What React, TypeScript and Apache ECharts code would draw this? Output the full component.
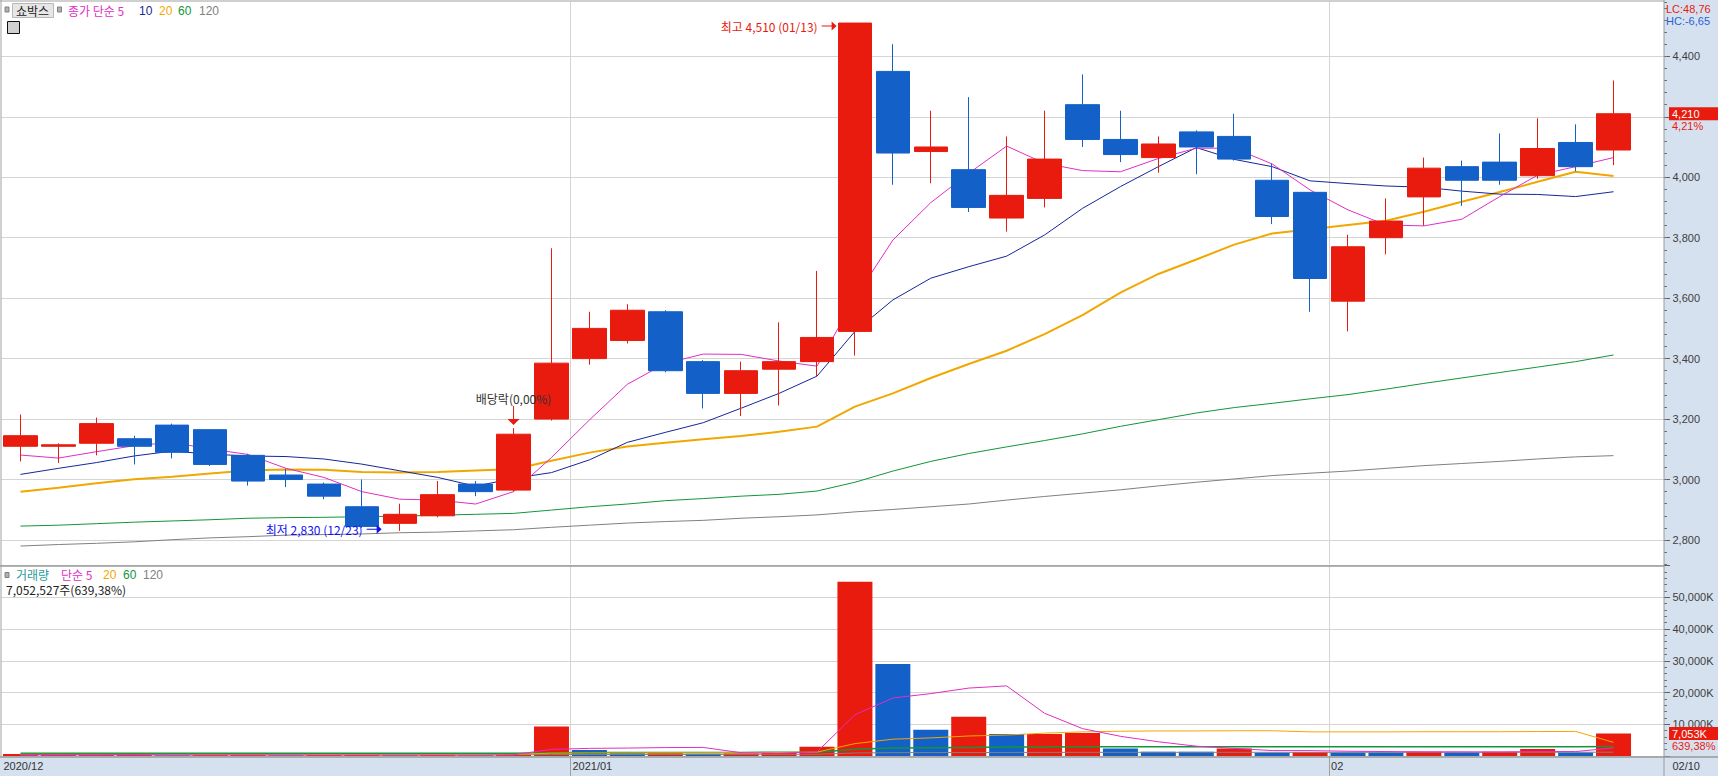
import React, { useEffect, useRef } from 'react';
import * as echarts from 'echarts';

// ---------- data ----------
const dates = [
  '2020/12/09','2020/12/10','2020/12/11','2020/12/14','2020/12/15','2020/12/16','2020/12/17','2020/12/18',
  '2020/12/21','2020/12/22','2020/12/23','2020/12/24','2020/12/28','2020/12/29','2020/12/30',
  '2021/01/04','2021/01/05','2021/01/06','2021/01/07','2021/01/08','2021/01/11','2021/01/12','2021/01/13',
  '2021/01/14','2021/01/15','2021/01/18','2021/01/19','2021/01/20','2021/01/21','2021/01/22','2021/01/25',
  '2021/01/26','2021/01/27','2021/01/28','2021/01/29',
  '2021/02/01','2021/02/02','2021/02/03','2021/02/04','2021/02/05','2021/02/08','2021/02/09','2021/02/10',
];
const opens  = [3110,3110,3120,3135,3180,3165,3080,3015,2985,2910,2855,2880,2985,2965,3200,3400,3460,3555,3390,3285,3365,3390,3490,4350,4085,4025,3865,3930,4240,4125,4065,4150,4135,3990,3950,3590,3800,3935,4035,4050,4005,4115,4090];
const closes = [3145,3115,3185,3110,3090,3050,2995,3000,2945,2845,2885,2950,2960,3150,3385,3500,3560,3360,3285,3360,3390,3470,4510,4080,4100,3900,3940,4060,4125,4075,4110,4100,4060,3870,3665,3770,3855,4030,3990,3990,4095,4035,4210];
const lows   = [3060,3055,3080,3050,3070,3045,2980,2975,2935,2840,2830,2875,2945,2960,3195,3380,3450,3355,3235,3210,3245,3340,3410,3975,3980,3885,3820,3900,4100,4050,4015,4010,4055,3845,3555,3490,3745,3840,3905,3975,3995,4020,4040];
const highs  = [3215,3120,3205,3145,3185,3165,3085,3035,2990,3000,2920,2995,2995,3170,3765,3555,3580,3560,3395,3390,3520,3690,4510,4440,4220,4265,4135,4220,4340,4220,4135,4155,4210,4045,3950,3810,3930,4065,4055,4145,4195,4175,4320];

const ma5   = [3081,3071,3092,3112,3123,3101,3083,3037,3007,2960,2935,2932,2919,2960,3073,3197,3315,3384,3415,3414,3392,3375,3600,3792,3916,4013,4103,4046,4022,4018,4062,4096,4096,4044,3958,3892,3842,3839,3861,3936,4007,4035,4065];
const ma10  = [3017,3037,3056,3078,3094,3084,3078,3076,3068,3051,3029,3007,2978,3004,3023,3065,3123,3156,3188,3236,3285,3342,3490,3594,3666,3704,3739,3809,3897,3969,4035,4098,4059,4035,3988,3979,3971,3967,3954,3944,3943,3936,3952];
const ma20  = [2960,2973,2988,3001,3009,3020,3030,3033,3032,3025,3023,3025,3030,3034,3062,3089,3109,3122,3133,3144,3158,3175,3241,3285,3336,3382,3426,3481,3544,3618,3680,3728,3777,3814,3828,3842,3856,3886,3919,3951,3985,4018,4004];
const ma60  = [2846,2849,2854,2859,2863,2867,2872,2874,2875,2877,2879,2882,2885,2888,2899,2910,2919,2930,2937,2945,2951,2962,2991,3028,3060,3086,3108,3129,3151,3176,3198,3220,3238,3252,3267,3281,3299,3318,3336,3354,3372,3390,3412];
const ma120 = [2780,2785,2789,2794,2801,2807,2811,2816,2818,2820,2824,2826,2830,2834,2842,2849,2856,2861,2865,2872,2877,2883,2893,2901,2910,2919,2932,2944,2955,2966,2979,2991,3002,3013,3021,3028,3037,3046,3053,3060,3068,3075,3079];

// volume in thousands of shares
const volumes = [630,300,300,600,200,300,350,200,300,400,200,300,200,700,9300,1900,850,900,700,800,1100,2900,54860,28980,8280,12400,6900,6930,7250,2400,1350,1350,2400,1050,1150,1100,1100,1350,1100,1350,2200,1100,7053];
const volDirs = ['u','u','u','u','d','u','u','d','u','u','d','u','d','u','u','d','d','u','d','u','u','u','u','d','d','u','d','u','u','d','d','d','u','d','u','d','d','u','d','u','u','d','u'];
const vma5   = [450,450,420,460,350,340,350,330,300,310,300,300,280,380,2100,2400,2500,2650,2700,1030,870,1280,13000,18270,19650,21390,22080,13450,8630,6200,4480,3090,2400,1710,1700,1500,1400,1300,1300,1250,1400,1400,2550];
const vma20  = [520,510,500,500,490,480,480,470,470,470,460,460,460,480,900,960,990,1020,1040,1060,1100,1220,3900,5300,5700,6300,6600,7200,7600,7800,7900,7900,7950,7950,7600,7600,7600,7650,7650,7650,7700,7750,4300];
const vma60  = [850,850,860,860,860,870,870,870,880,880,880,890,890,900,1050,1100,1100,1120,1130,1140,1150,1200,2100,2500,2600,2700,2800,2850,2900,2900,2900,2920,2920,2920,2930,2930,2930,2930,2940,2940,2950,2950,2980];
const vma120 = [320,320,320,330,330,330,340,340,340,350,350,350,360,370,450,480,490,500,510,520,530,550,950,1050,1080,1100,1120,1140,1150,1150,1160,1160,1160,1170,1170,1170,1170,1180,1180,1180,1180,1190,1200];

const edgeLabels: Record<number, string> = { 0: '2020/12', 15: '2021/01', 35: '02', 44: '02/10' };
const monthEdges = [15, 35];
const mainTicks = { min: 2800, max: 4400, step: 200 };
const volTicks = { min: 0, max: 60000, step: 10000 };

const lastPrice = 4210;
const lastPct = '4,21%';
const lastVol = 7053;
const lastVolPct = '639,38%';
const highMark = { idx: 22, value: 4510, text: '최고 4,510 (01/13)' };
const lowMark = { idx: 10, value: 2830, text: '최저 2,830 (12/23)' };
const divMark = { idx: 13, value: 3170, text: '배당락(0,00%)' };

// ---------- style ----------
const RED = '#E81B0E';
const BLUE = '#1360C8';
const LOWBLUE = '#1010F0';
const C5 = '#E02EC4';
const C10 = '#15279A';
const C20 = '#F0A800';
const C60 = '#13953A';
const C120 = '#808080';
const GRID = '#D4D4D4';
const PANEL = '#D6E1EF';
const FN = '"Liberation Sans", "Noto Sans CJK KR", sans-serif';
const FK = '"Noto Sans CJK KR", "Liberation Sans", sans-serif';

const W = 1718, H = 776;
const L = 1.5, SLOT = 37.93;
const GR = W - (L + SLOT * 44); // grid right margin
const AX = 1664; // axis line x
const TAGX = 1669; // left of price tags
const LASTSLOT = 43;

export default function App() {
  const ref = useRef<HTMLDivElement>(null);
  useEffect(() => {
    if (!ref.current) return;
    const chart = echarts.init(ref.current, null, { renderer: 'svg' });
    const slotCats = dates.concat(['']).map((_d, i) => 's' + i);
    const edgeCats = Array.from({ length: 45 }, (_, i) => 'e' + i);
    const isMonthEdge = (i: number) => monthEdges.indexOf(i) >= 0;
    const arrowRight = 'path://M0,4L10,4L10,0L15,4.5L10,9L10,5L0,5Z';
    const arrowDown = 'path://M5.5,0L6.5,0L6.5,13L12,13L6,19L0,13L5.5,13Z';
    const lastSlotCenter = L + (LASTSLOT + 0.5) * SLOT;
    const tagDist = TAGX - lastSlotCenter;

    const lineS = (data: number[], color: string, width: number, xi: number, yi: number, z = 3) => ({
      type: 'line', xAxisIndex: xi, yAxisIndex: yi, data, symbol: 'none', silent: true, z,
      lineStyle: { color, width }, emphasis: { disabled: true },
    });

    const txt = (x: number, y: number, text: string, fill: string, font = FK, size = 12) => ({
      type: 'text', x, y, z: 50,
      style: { text, fill, fontSize: size, fontFamily: font, lineHeight: size, textVerticalAlign: 'middle', verticalAlign: 'middle' },
    });
    const ln = (x1: number, y1: number, x2: number, y2: number, stroke: string, w = 1) => ({
      type: 'line', z: 40, shape: { x1, y1, x2, y2 }, style: { stroke, lineWidth: w },
    });
    const tag = (value: number, text: string, boxed: boolean) => ({
      value: [LASTSLOT, value], symbol: 'circle', symbolSize: 0, itemStyle: { color: 'transparent', opacity: 1 },
      label: {
        show: true, position: 'right', distance: tagDist, formatter: text,
        offset: boxed ? [0, 0] : [0, 12],
        color: boxed ? '#fff' : RED, backgroundColor: boxed ? RED : 'transparent',
        padding: [1, 2, 0, 3], width: 44, lineHeight: 12, fontSize: 11, fontFamily: FN,
      },
    });

    const option: any = {
      animation: false,
      textStyle: { fontFamily: FN },
      grid: [
        { left: L, right: GR, top: 540 - (mainTicks.max - 2800) * 0.30231, height: (mainTicks.max - mainTicks.min) * 0.30231 },
        { left: L, right: GR, top: 565.5, height: 190.5 },
        { left: L, right: GR, top: 540 - (4580 - 2800) * 0.30231, height: (4580 - 2720) * 0.30231 },
      ],
      xAxis: [
        { gridIndex: 0, type: 'category', data: slotCats, show: false },
        { gridIndex: 2, type: 'category', data: slotCats, show: false },
        {
          gridIndex: 2, type: 'category', data: edgeCats, boundaryGap: false,
          axisLine: { show: false }, axisTick: { show: false }, axisLabel: { show: false },
          splitLine: { show: true, interval: (i: number) => isMonthEdge(i), lineStyle: { color: GRID, width: 1 } },
        },
        { gridIndex: 1, type: 'category', data: slotCats, show: false },
        {
          gridIndex: 1, type: 'category', data: edgeCats, boundaryGap: false, position: 'bottom',
          axisLine: { show: false },
          axisTick: { show: true, interval: (i: number) => isMonthEdge(i), length: 20, lineStyle: { color: '#A0A0A0' } },
          axisLabel: {
            show: true, interval: (i: number) => edgeLabels[i] !== undefined,
            formatter: (_v: string, i: number) => edgeLabels[i] || '',
            align: 'left', margin: 4, padding: [0, 0, 0, 2], color: '#333', fontSize: 11, fontFamily: FN,
          },
          splitLine: { show: true, interval: (i: number) => isMonthEdge(i), lineStyle: { color: GRID, width: 1 } },
        },
      ],
      yAxis: [
        {
          gridIndex: 0, type: 'value', min: mainTicks.min, max: mainTicks.max, interval: mainTicks.step,
          position: 'right', offset: AX - (W - GR),
          axisLine: { show: false },
          axisTick: { show: true, length: 6, lineStyle: { color: '#606060' } },
          axisLabel: { show: true, margin: 8.5, color: '#404040', fontSize: 11, fontFamily: FN,
            formatter: (v: number) => (Math.abs(v - lastPrice) < 60 ? '' : v.toLocaleString('en-US')) },
          splitLine: { show: true, lineStyle: { color: GRID, width: 1 } },
        },
        {
          gridIndex: 2, type: 'value', min: 2720, max: 4580, interval: 40,
          position: 'right', offset: AX - (W - GR),
          axisLine: { show: false },
          axisTick: { show: true, length: 3, lineStyle: { color: '#707070' } },
          axisLabel: { show: false }, splitLine: { show: false },
        },
        {
          gridIndex: 1, type: 'value', min: volTicks.min, max: volTicks.max, interval: volTicks.step,
          position: 'right', offset: AX - (W - GR),
          axisLine: { show: false },
          axisTick: { show: true, length: 6, lineStyle: { color: '#606060' } },
          minorTick: { show: true, splitNumber: 5, length: 3, lineStyle: { color: '#707070' } },
          axisLabel: { show: true, margin: 8.5, color: '#404040', fontSize: 11, fontFamily: FN,
            formatter: (v: number) => (v === volTicks.min || v === volTicks.max ? '' : v.toLocaleString('en-US') + 'K') },
          splitLine: { show: true, lineStyle: { color: GRID, width: 1 } },
        },
      ],
      series: [
        lineS(ma120, C120, 1, 1, 1),
        lineS(ma60, C60, 1, 1, 1),
        lineS(ma20, C20, 2, 1, 1),
        lineS(ma10, C10, 1, 1, 1),
        lineS(ma5, C5, 1, 1, 1),
        {
          type: 'candlestick', xAxisIndex: 1, yAxisIndex: 1, z: 5, barWidth: 34, silent: true,
          data: opens.map((o, i) => [o, closes[i], lows[i], highs[i]]),
          itemStyle: { color: RED, color0: BLUE, borderColor: RED, borderColor0: BLUE, borderWidth: 1 },
        },
        {
          type: 'scatter', xAxisIndex: 1, yAxisIndex: 1, z: 10, silent: true, clip: false,
          itemStyle: { opacity: 1 },
          data: [
            {
              value: [highMark.idx, highMark.value], symbol: arrowRight, symbolSize: [15, 9], symbolOffset: [-25.8, 3],
              itemStyle: { color: RED, opacity: 1 },
              label: { show: true, position: 'left', distance: 4, formatter: highMark.text, color: RED, fontSize: 12, fontFamily: FK },
            },
            {
              value: [lowMark.idx, lowMark.value], symbol: arrowRight, symbolSize: [15, 9], symbolOffset: [-25.6, -1.6],
              itemStyle: { color: LOWBLUE, opacity: 1 },
              label: { show: true, position: 'left', distance: 4, formatter: lowMark.text, color: LOWBLUE, fontSize: 12, fontFamily: FK },
            },
            {
              value: [divMark.idx, divMark.value], symbol: arrowDown, symbolSize: [12, 19], symbolOffset: [0, -12.6],
              itemStyle: { color: RED, opacity: 1 },
              label: { show: true, position: 'top', distance: 2, formatter: divMark.text, color: '#333', fontSize: 12, fontFamily: FK },
            },
            tag(lastPrice, lastPrice.toLocaleString('en-US'), true),
            tag(lastPrice, lastPct, false),
          ],
        },
        {
          type: 'bar', xAxisIndex: 3, yAxisIndex: 2, barWidth: 35, z: 2, silent: true,
          data: volumes.map((v, i) => ({ value: v, itemStyle: { color: volDirs[i] === 'u' ? RED : BLUE } })),
        },
        lineS(vma120, C120, 1, 3, 2, 4),
        lineS(vma60, C60, 1.5, 3, 2, 4),
        lineS(vma20, C20, 1, 3, 2, 4),
        lineS(vma5, C5, 1, 3, 2, 4),
        {
          type: 'scatter', xAxisIndex: 3, yAxisIndex: 2, z: 10, silent: true, clip: false,
          itemStyle: { opacity: 1 },
          data: [
            tag(lastVol, lastVol.toLocaleString('en-US') + 'K', true),
            tag(lastVol, lastVolPct, false),
          ],
        },
      ],
      graphic: [
        { type: 'rect', z: -10, silent: true, shape: { x: AX, y: 0, width: W - AX, height: H }, style: { fill: PANEL } },
        { type: 'rect', z: -10, silent: true, shape: { x: 0, y: 757, width: W, height: H - 757 }, style: { fill: PANEL } },
        ln(0, 1, AX, 1, '#A0A0A0'),
        ln(1, 0, 1, 757, '#A0A0A0'),
        ln(0, 566, AX, 566, '#9A9A9A', 1.5),
        ln(0, 757, W, 757, '#9A9A9A', 1.5),
        ln(AX, 0, AX, H, '#9A9A9A', 1),
        // main legend
        { type: 'rect', z: 45, shape: { x: 5, y: 7, width: 4, height: 5 }, style: { fill: '#B0B0B0', stroke: '#808080', lineWidth: 1 } },
        { type: 'rect', z: 45, shape: { x: 12.5, y: 3.5, width: 41, height: 14 }, style: { fill: '#E6E6E6', stroke: '#B8B8B8', lineWidth: 1 } },
        txt(16, 10.5, '쇼박스', '#222'),
        { type: 'rect', z: 45, shape: { x: 57.5, y: 7, width: 4, height: 5 }, style: { fill: '#B0B0B0', stroke: '#808080', lineWidth: 1 } },
        txt(68, 10.5, '종가 단순 5', C5),
        txt(139, 10.5, '10', C10, FN),
        txt(159, 10.5, '20', C20, FN),
        txt(178, 10.5, '60', C60, FN),
        txt(199, 10.5, '120', C120, FN),
        { type: 'rect', z: 45, shape: { x: 7.5, y: 21.5, width: 12, height: 12 }, style: { fill: '#D0D0D0', stroke: '#111', lineWidth: 1 } },
        ln(9.5, 25.5, 17.5, 25.5, '#777'), ln(9.5, 29.5, 17.5, 29.5, '#777'),
        ln(11.5, 23.5, 11.5, 31.5, '#777'), ln(15.5, 23.5, 15.5, 31.5, '#777'),
        txt(1666, 8.5, 'LC:48,76', RED, FN, 11),
        txt(1666, 20.5, 'HC:-6,65', '#2A62D0', FN, 11),
        // volume legend
        { type: 'rect', z: 45, shape: { x: 5, y: 572.5, width: 4, height: 5 }, style: { fill: '#B0B0B0', stroke: '#808080', lineWidth: 1 } },
        txt(16, 574.5, '거래량', '#2A9A9A'),
        txt(61, 574.5, '단순 5', C5),
        txt(103, 574.5, '20', C20, FN),
        txt(123, 574.5, '60', C60, FN),
        txt(143, 574.5, '120', C120, FN),
        txt(6, 589, '7,052,527주(639,38%)', '#222'),
      ],
    };
    chart.setOption(option);
    return () => chart.dispose();
  }, []);
  return <div ref={ref} style={{ position: 'fixed', left: 0, top: 0, width: W, height: H, background: '#fff' }} />;
}
